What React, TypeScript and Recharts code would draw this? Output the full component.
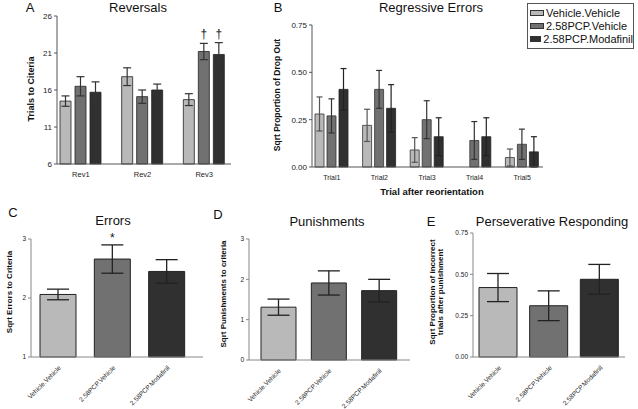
import type { CSSProperties, ReactNode } from "react"
import { Bar, BarChart, Cell, ErrorBar, LabelList, XAxis, YAxis } from "recharts"

const groups = ["Vehicle.Vehicle", "2.58PCP.Vehicle", "2.58PCP.Modafinil"]
const colors = ["#b9b9b9", "#717171", "#303030"]

// A: reversals (trials to criteria)
const revLabels = ["Rev1", "Rev2", "Rev3"]
const revVV = [14.5, 17.8, 14.7]
const revPV = [16.5, 15.1, 21.2]
const revPM = [15.7, 16.0, 20.8]
const revVVErr = [0.7, 1.2, 0.8]
const revPVErr = [1.3, 0.9, 1.1]
const revPMErr = [1.4, 0.8, 1.6]
const revPVMarks = ["", "", "†"]
const revPMMarks = ["", "", "†"]
const revTicks = [6, 11, 16, 21, 26]

// B: regressive errors
const trialLabels = ["Trial1", "Trial2", "Trial3", "Trial4", "Trial5"]
const regVV = [0.28, 0.22, 0.09, 0, 0.05]
const regPV = [0.27, 0.41, 0.25, 0.14, 0.12]
const regPM = [0.41, 0.31, 0.16, 0.16, 0.08]
const regVVErr = [0.09, 0.085, 0.065, 0, 0.045]
const regPVErr = [0.09, 0.1, 0.1, 0.1, 0.08]
const regPMErr = [0.11, 0.125, 0.1, 0.1, 0.08]
const regTicks = [0, 0.25, 0.5, 0.75]

// C, D, E
const errVals = [2.06, 2.66, 2.45]
const errErr = [0.09, 0.24, 0.2]
const errMarks = ["", "*", ""]
const errTicks = [1, 2, 3]

const punVals = [1.31, 1.91, 1.72]
const punErr = [0.2, 0.3, 0.28]
const punTicks = [0, 1, 2, 3]

const persVals = [0.42, 0.31, 0.47]
const persErr = [0.085, 0.09, 0.09]
const persTicks = [0, 0.25, 0.5, 0.75]

const FONT = "Arial, 'Liberation Sans', sans-serif"
const YW = 30
const MT = 16
const MR = 6

const revData = revLabels.map((name, i) => ({
  name,
  vv: revVV[i],
  pv: revPV[i],
  pm: revPM[i],
  vvErr: revVVErr[i],
  pvErr: revPVErr[i],
  pmErr: revPMErr[i],
}))

const regData = trialLabels.map((name, i) => ({
  name,
  vv: regVV[i],
  pv: regPV[i],
  pm: regPM[i],
  vvErr: regVVErr[i],
  pvErr: regPVErr[i],
  pmErr: regPMErr[i],
}))

const single = (vals: number[], errs: number[]) => groups.map((name, i) => ({ name, v: vals[i], err: errs[i] }))

function place(x0: number, x1: number, y0: number, y1: number, below: number) {
  return {
    style: { position: "absolute", left: x0 - YW, top: y0 - MT } as CSSProperties,
    width: x1 - x0 + YW + MR,
    height: y1 - y0 + MT + below,
  }
}

// draws a mark (dagger / star) just above the error bar cap
function markLabel(marks: string[], errs: number[], base: number, gap: number) {
  return (props: any) => {
    const vb = props.viewBox ?? props
    const i = props.index
    if (i == null || !marks[i]) return null
    const v = Number(props.value)
    const pxPer = vb.height / (v - base)
    const top = vb.y - errs[i] * pxPer
    return (
      <text x={vb.x + vb.width / 2} y={top - gap} textAnchor="middle" fontSize={12} style={{ fill: "#111" }} fontFamily={FONT}>
        {marks[i]}
      </text>
    )
  }
}

function Txt({
  x,
  y,
  size,
  bold,
  rotate,
  children,
}: {
  x: number
  y: number
  size: number
  bold?: boolean
  rotate?: boolean
  children: ReactNode
}) {
  return (
    <div
      style={{
        position: "absolute",
        left: x,
        top: y,
        transform: `translate(-50%, -50%)${rotate ? " rotate(-90deg)" : ""}`,
        fontSize: size,
        fontWeight: bold ? "bold" : "normal",
        whiteSpace: "nowrap",
        lineHeight: 1.05,
        textAlign: "center",
        color: "#111",
      }}
    >
      {children}
    </div>
  )
}

const yTick = { fontSize: 8, fill: "#222", fontFamily: FONT }
const smallTick = { fontSize: 6.5, fill: "#222", fontFamily: FONT }

function Reversals() {
  const p = place(57, 231, 16, 164, 20)
  return (
    <div style={p.style}>
      <BarChart width={p.width} height={p.height} data={revData} margin={{ top: MT, right: MR, left: 0, bottom: 0 }} barSize={11} barGap={4}>
        <XAxis dataKey="name" height={20} tickLine={false} axisLine={{ stroke: "#555" }} tick={{ fontSize: 7.5, fill: "#222" }} padding={{ left: -7, right: -4 }} interval={0} />
        <YAxis width={YW} domain={[6, 26]} ticks={revTicks} axisLine={{ stroke: "#555" }} tickLine={{ stroke: "#555" }} tickSize={3} tick={yTick} interval={0} />
        <Bar dataKey="vv" fill={colors[0]} stroke="#222" strokeWidth={0.8} isAnimationActive={false}>
          <ErrorBar dataKey="vvErr" width={4} stroke="#333" strokeWidth={1.2} />
        </Bar>
        <Bar dataKey="pv" fill={colors[1]} stroke="#222" strokeWidth={0.8} isAnimationActive={false}>
          <ErrorBar dataKey="pvErr" width={4} stroke="#333" strokeWidth={1.2} />
          <LabelList dataKey="pv" content={markLabel(revPVMarks, revPVErr, 6, 5)} />
        </Bar>
        <Bar dataKey="pm" fill={colors[2]} stroke="#222" strokeWidth={0.8} isAnimationActive={false}>
          <ErrorBar dataKey="pmErr" width={4} stroke="#333" strokeWidth={1.2} />
          <LabelList dataKey="pm" content={markLabel(revPMMarks, revPMErr, 6, 5)} />
        </Bar>
      </BarChart>
    </div>
  )
}

function Regressive() {
  const p = place(312, 543, 25, 167, 20)
  return (
    <div style={p.style}>
      <BarChart width={p.width} height={p.height} data={regData} margin={{ top: MT, right: MR, left: 0, bottom: 0 }} barSize={9} barGap={3}>
        <XAxis dataKey="name" height={20} tickLine={false} axisLine={{ stroke: "#555" }} tick={{ fontSize: 7, fill: "#222" }} padding={{ left: -4, right: -3 }} interval={0} />
        <YAxis width={YW} domain={[0, 0.75]} ticks={regTicks} axisLine={{ stroke: "#555" }} tickLine={{ stroke: "#555" }} tickSize={3} tick={yTick} tickFormatter={(v: number) => v.toFixed(2)} interval={0} />
        <Bar dataKey="vv" fill={colors[0]} stroke="#333" strokeWidth={0.8} isAnimationActive={false}>
          <ErrorBar dataKey="vvErr" width={3} stroke="#555" strokeWidth={1.2} />
        </Bar>
        <Bar dataKey="pv" fill={colors[1]} stroke="#333" strokeWidth={0.8} isAnimationActive={false}>
          <ErrorBar dataKey="pvErr" width={3} stroke="#333" strokeWidth={1.2} />
        </Bar>
        <Bar dataKey="pm" fill={colors[2]} stroke="#222" strokeWidth={0.8} isAnimationActive={false}>
          <ErrorBar dataKey="pmErr" width={3} stroke="#222" strokeWidth={1.2} />
        </Bar>
      </BarChart>
    </div>
  )
}

function SinglePanel({
  x0,
  x1,
  y0,
  y1,
  vals,
  errs,
  ticks,
  domain,
  fixed,
  barSize,
  padding,
  marks,
}: {
  x0: number
  x1: number
  y0: number
  y1: number
  vals: number[]
  errs: number[]
  ticks: number[]
  domain: [number, number]
  fixed?: boolean
  barSize: number
  padding: { left: number; right: number }
  marks?: string[]
}) {
  const p = place(x0, x1, y0, y1, 52)
  return (
    <div style={p.style}>
      <BarChart width={p.width} height={p.height} data={single(vals, errs)} margin={{ top: MT, right: MR, left: 0, bottom: 0 }} barSize={barSize}>
        <XAxis
          dataKey="name"
          height={52}
          tickLine={false}
          axisLine={{ stroke: "#888" }}
          tick={smallTick}
          angle={-45}
          textAnchor="end"
          tickMargin={2}
          padding={padding}
          interval={0}
        />
        <YAxis
          width={YW}
          domain={domain}
          ticks={ticks}
          axisLine={{ stroke: "#888" }}
          tickLine={{ stroke: "#888" }}
          tickSize={3}
          tick={smallTick}
          tickFormatter={(v: number) => (fixed ? v.toFixed(2) : String(v))}
          interval={0}
        />
        <Bar dataKey="v" stroke="#222" strokeWidth={1} isAnimationActive={false}>
          {vals.map((_, i) => (
            <Cell key={i} fill={colors[i]} />
          ))}
          <ErrorBar dataKey="err" width={11} stroke="#222" strokeWidth={1.3} />
          {marks && <LabelList dataKey="v" content={markLabel(marks, errs, domain[0], 3)} />}
        </Bar>
      </BarChart>
    </div>
  )
}

function LegendBox() {
  return (
    <div
      style={{
        position: "absolute",
        left: 527,
        top: 3,
        width: 105,
        height: 44,
        border: "1px solid #555",
        background: "#fff",
        fontSize: 11,
      }}
    >
      {groups.map((g, i) => (
        <div key={g} style={{ display: "flex", alignItems: "center", height: 13, marginTop: i === 0 ? 2 : 0, paddingLeft: 2 }}>
          <span style={{ display: "inline-block", width: 12, height: 4, background: colors[i], border: "1px solid #333", marginRight: 2 }} />
          <span style={{ color: "#111" }}>{g}</span>
        </div>
      ))}
    </div>
  )
}

export default function App() {
  return (
    <div style={{ position: "absolute", left: 0, top: 0, width: 638, height: 409, background: "#fff", fontFamily: FONT, overflow: "hidden" }}>
      <Reversals />
      <Regressive />
      <SinglePanel x0={31} x1={203} y0={239} y1={357} vals={errVals} errs={errErr} ticks={errTicks} domain={[1, 3]} barSize={36} padding={{ left: 0, right: 9 }} marks={errMarks} />
      <SinglePanel x0={249} x1={410} y0={239} y1={360} vals={punVals} errs={punErr} ticks={punTicks} domain={[0, 3]} barSize={35} padding={{ left: 4, right: 6 }} />
      <SinglePanel x0={473} x1={625} y0={233} y1={357} vals={persVals} errs={persErr} ticks={persTicks} domain={[0, 0.75]} fixed barSize={38} padding={{ left: 0, right: 0 }} />
      <LegendBox />

      <Txt x={30} y={8} size={13}>A</Txt>
      <Txt x={138} y={8} size={13}>Reversals</Txt>
      <Txt x={32} y={89} size={9} bold rotate>Trials to Citeria</Txt>

      <Txt x={278} y={8} size={13}>B</Txt>
      <Txt x={431} y={8} size={13}>Regressive Errors</Txt>
      <Txt x={277} y={95} size={8.5} bold rotate>Sqrt Proportion of Drop Out</Txt>
      <Txt x={432} y={192} size={9.5} bold>Trial after reorientation</Txt>

      <Txt x={13} y={213} size={13}>C</Txt>
      <Txt x={113} y={221} size={13}>Errors</Txt>
      <Txt x={10} y={292} size={8} bold rotate>Sqrt Errors to Criteria</Txt>

      <Txt x={218} y={215} size={13}>D</Txt>
      <Txt x={327} y={222} size={13}>Punishments</Txt>
      <Txt x={224} y={294} size={8} bold rotate>Sqrt Punishments to criteria</Txt>

      <Txt x={431} y={222} size={13}>E</Txt>
      <Txt x={552} y={222} size={13}>Perseverative Responding</Txt>
      <Txt x={437} y={292} size={8} bold rotate>
        Sqrt Proportion of incorrect
        <br />
        trials after punishment
      </Txt>
    </div>
  )
}
